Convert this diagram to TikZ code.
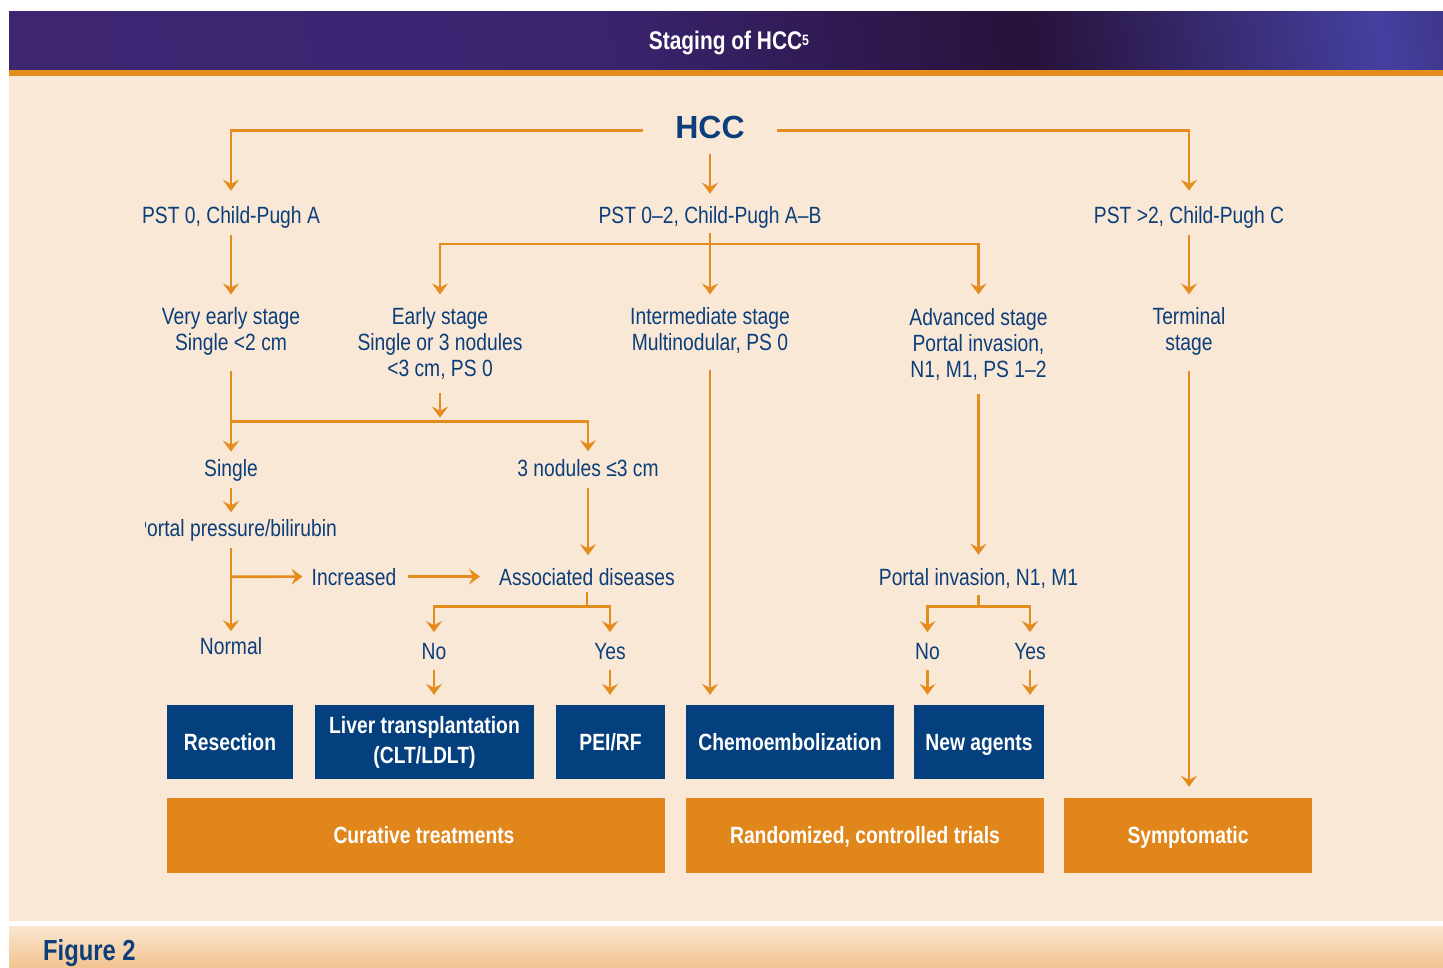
\documentclass[tikz,border=0pt]{standalone}
\usepackage{fontspec}
\setmainfont{Liberation Sans}[FakeStretch=0.82]
\newfontfamily\hccfont{Liberation Sans}
\usetikzlibrary{arrows.meta,calc}
\definecolor{navy}{HTML}{0B3E7A}
\definecolor{orng}{HTML}{E58C1F}
\definecolor{beige}{HTML}{FAE8D6}
\definecolor{boxblue}{HTML}{05407E}
\definecolor{boxorange}{HTML}{E0861A}
\definecolor{pA}{HTML}{3A2E86}
\definecolor{pB}{HTML}{2E1B55}
\definecolor{pC}{HTML}{3D2572}
\definecolor{pD}{HTML}{3A2470}
\definecolor{pE}{HTML}{27123A}
\definecolor{pF}{HTML}{4540A0}
\definecolor{pG}{HTML}{2A1640}
\definecolor{pH}{HTML}{3B2E86}
\definecolor{figtop}{HTML}{F9E6D0}
\definecolor{figbot}{HTML}{F2C38F}
\pgfdeclarehorizontalshading{titleband}{100bp}{color(0bp)=(pA); color(8bp)=(pB); color(22bp)=(pC); color(45bp)=(pD); color(62bp)=(pE); color(76bp)=(pF); color(88bp)=(pG); color(100bp)=(pH)}
\tikzset{
  ln/.style={draw=orng, line width=2.7pt},
  ar/.style={ln, -{Stealth[length=11pt,width=16pt,inset=4pt]}},
  lbl/.style={inner sep=0pt, text=navy, font=\fontsize{23.5}{26}\selectfont},
  mlbl/.style={lbl, align=center, anchor=north},
  bbox/.style={fill=boxblue, text=white, inner sep=0pt, align=center, minimum height=74pt, font=\bfseries\fontsize{23.5}{30}\selectfont},
  obox/.style={fill=boxorange, text=white, inner sep=0pt, align=center, minimum height=75pt, text height=16.8pt, text depth=0pt, font=\bfseries\fontsize{23.5}{30}\selectfont},
  oneline/.style={text height=16.8pt, text depth=0pt}
}
\begin{document}
\begin{tikzpicture}[x=1pt,y=-1pt]
\fill[white] (0,0) rectangle (1443,968);
\useasboundingbox (0,0) rectangle (1443,968);
% backgrounds
\shade[shading=titleband, shading angle=9] (9,12) rectangle (1443,70);
\fill[orng] (9,70) rectangle (1443,76);
\fill[beige] (9,76) rectangle (1443,920.7);
\shade[top color=figtop, bottom color=figbot] (9,926) rectangle (1443,968);
\node[text=white, inner sep=0pt, anchor=base, font=\bfseries\fontsize{25.5}{28}\selectfont] (title) at (729,50) {Staging of HCC\raisebox{4.5pt}{\fontsize{15}{16}\selectfont 5}};
\node[text=navy, inner sep=0pt, anchor=base west, font=\bfseries\fontsize{29}{31}\selectfont] (fig) at (43,960) {Figure 2};

% text nodes
\node[inner sep=0pt, text=navy, text depth=6pt, anchor=base, font=\hccfont\bfseries\fontsize{32}{34}\selectfont] (hcc) at (710,139) {HCC};
\node[lbl, anchor=base] (psta) at (231,224) {PST 0, Child-Pugh A};
\node[lbl, anchor=base] (pstm) at (710,224) {PST 0–2, Child-Pugh A–B};
\node[lbl, anchor=base] (pstc) at (1189,224) {PST >2, Child-Pugh C};

\node[mlbl] (vearly) at (231,307.5) {Very early stage\\Single <2 cm};
\node[mlbl] (early) at (440,307.5) {Early stage\\Single or 3 nodules\\<3 cm, PS 0};
\node[mlbl] (inter) at (710,307.5) {Intermediate stage\\Multinodular, PS 0};
\node[mlbl] (adv) at (978.5,308.5) {Advanced stage\\Portal invasion,\\N1, M1, PS 1–2};
\node[mlbl] (term) at (1189,307.5) {Terminal\\stage};

\node[lbl, anchor=base] (single) at (231,476) {Single};
\node[lbl, anchor=base] (nod) at (588,476) {3 nodules ≤3 cm};
\begin{scope}
  \clip (145,500) rectangle (400,550);
  \node[lbl, anchor=base east] (ppb) at (337,536) {Portal pressure/bilirubin};
\end{scope}
\node[lbl, anchor=base] (incr) at (354,585) {Increased};
\node[lbl, anchor=base] (assoc) at (587,585) {Associated diseases};
\node[lbl, anchor=base] (portal) at (978.5,585) {Portal invasion, N1, M1};
\node[lbl, anchor=base] (normal) at (231,654) {Normal};
\node[lbl, anchor=base] (no1) at (434,659) {No};
\node[lbl, anchor=base] (yes1) at (610,659) {Yes};
\node[lbl, anchor=base] (no2) at (927.5,659) {No};
\node[lbl, anchor=base] (yes2) at (1030,659) {Yes};

% boxes
\node[bbox, oneline, minimum width=126pt] (resec) at (230,742) {Resection};
\node[bbox, minimum width=219pt] (liver) at (424.5,742) {Liver transplantation\\(CLT/LDLT)};
\node[bbox, oneline, minimum width=109pt] (pei) at (610.5,742) {PEI/RF};
\node[bbox, oneline, minimum width=208pt] (chemo) at (790,742) {Chemoembolization};
\node[bbox, oneline, minimum width=130pt] (newag) at (979,742) {New agents};
\node[obox, minimum width=498pt] (cur) at (416,835.5) {\hspace*{16pt}Curative treatments};
\node[obox, minimum width=358pt] (rct) at (865,835.5) {Randomized, controlled trials};
\node[obox, minimum width=248pt] (sympt) at (1188,835.5) {Symptomatic};

% junctions
\coordinate (j1) at (710,244);
\coordinate (j2) at (231,421.7);
\coordinate (j3) at (440,421.7);
\coordinate (j4) at (231,576.7);
\coordinate (j5) at (587,606.7);
\coordinate (j6) at (978.5,606.7);

% connectors
\draw[ar, shorten <=32pt, shorten >=16pt] (hcc.west) -| (psta.north);
\draw[ar, shorten <=32pt, shorten >=16pt] (hcc.east) -| (pstc.north);
\draw[ar, shorten <=9pt, shorten >=13pt] (hcc.south) -- (pstm.north);

\draw[ar, shorten <=6pt, shorten >=13pt] (psta.south) -- (vearly.north);
\draw[ar, shorten <=4pt, shorten >=13pt] (pstm.south) -- (inter.north);
\draw[ar, shorten <=6pt, shorten >=13pt] (pstc.south) -- (term.north);
\draw[ar, shorten >=13pt] (j1) -| (early.north);
\draw[ar, shorten >=14pt] (j1) -| (adv.north);

\draw[ln, shorten <=15pt] (vearly.south) -- (j2);
\draw[ar, shorten <=13pt, shorten >=4pt] (early.south) -- (j3);
\draw[ar, shorten >=7pt] (j2) -- (single.north);
\draw[ar, shorten >=7.5pt] (j2) -| (nod.north);

\draw[ar, shorten <=7pt, shorten >=6.5pt] (single.south) -- (single.south |- ppb.north);
\draw[ar, shorten <=7pt, shorten >=5.5pt] (single |- ppb.south) -- (normal.north);
\draw[ar, shorten >=9pt] (j4) -- (incr.west);
\draw[ar, shorten <=11pt, shorten >=19pt] (incr.east) -- (assoc.west);
\draw[ar, shorten <=12pt, shorten >=12.5pt] (nod.south) -- (nod.south |- assoc.north);

\draw[ln, shorten <=7pt] (assoc.south) -- (j5);
\draw[ar, shorten >=10.5pt] (j5) -| (no1.north);
\draw[ar, shorten >=10.5pt] (j5) -| (yes1.north);
\draw[ar, shorten <=11pt, shorten >=10pt] (no1.south) -- (no1.south |- liver.north);
\draw[ar, shorten <=11pt, shorten >=10pt] (yes1.south) -- (yes1.south |- pei.north);

\draw[ar, shorten <=13.5pt, shorten >=13pt] (adv.south) -- (adv.south |- portal.north);
\draw[ln, shorten <=7pt] (portal.south) -- (j6);
\draw[ar, shorten >=10.5pt] (j6) -| (no2.north);
\draw[ar, shorten >=10.5pt] (j6) -| (yes2.north);
\draw[ar, shorten <=11pt, shorten >=10pt] (no2.south) -- (no2.south |- newag.north);
\draw[ar, shorten <=11pt, shorten >=10pt] (yes2.south) -- (yes2.south |- newag.north);

\draw[ar, shorten <=16.5pt, shorten >=10pt] (inter.south) -- (inter.south |- chemo.north);
\draw[ar, shorten <=15pt, shorten >=11pt] (term.south) -- (term.south |- sympt.north);
\end{tikzpicture}
\end{document}
